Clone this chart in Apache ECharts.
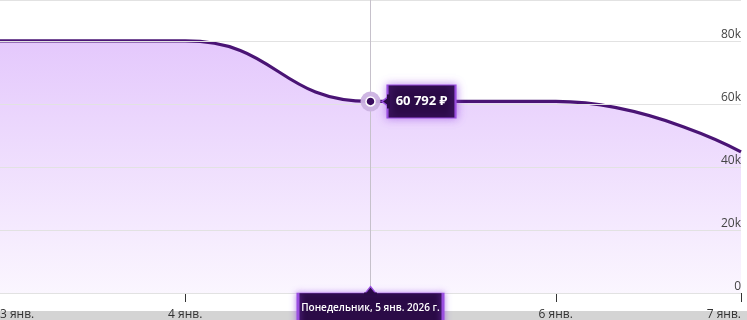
<!DOCTYPE html>
<html>
<head>
<meta charset="utf-8">
<script src="https://cdn.jsdelivr.net/npm/echarts@6/dist/echarts.min.js"></script>
<style>
  html, body { margin: 0; padding: 0; background: #fff; }
  #chart { width: 747px; height: 320px; }
</style>
</head>
<body>
<div id="chart"></div>
<script>
// ---- data ----
const categories = ['3 янв.', '4 янв.', '5 янв.', '6 янв.', '7 янв.'];
const values = [80000, 80000, 60792, 60800, 44800];
const yTicks = [0, 20000, 40000, 60000, 80000];
const focusIndex = 2;
const focusDateText = 'Понедельник, 5 янв. 2026 г.';
const currency = '₽';

function fmtMoney(v) {
  return String(Math.round(v)).replace(/\B(?=(\d{3})+(?!\d))/g, ' ') + ' ' + currency;
}

const FONT = '"Open Sans", "Noto Sans", "DejaVu Sans", sans-serif';
const DARK = '#2b0b47';
const BORDER = '#9a4fe0';

const chart = echarts.init(document.getElementById('chart'), null, { renderer: 'canvas' });

const option = {
  backgroundColor: '#ffffff',
  animation: false,
  textStyle: { fontFamily: FONT },
  grid: { left: 0, right: 6, top: 0, bottom: 27, containLabel: false, outerBoundsMode: 'none' },
  graphic: [{
    type: 'rect', left: 0, bottom: 0, z: -1,
    shape: { width: 747, height: 9 },
    style: { fill: '#d4d4d4' }
  }],
  xAxis: {
    type: 'category',
    data: categories,
    boundaryGap: false,
    axisLine: { show: true, lineStyle: { color: '#333', width: 1 } },
    axisTick: { show: true, length: 9, interval: function (i) { return i > 0; }, lineStyle: { color: '#333' } },
    axisLabel: {
      color: '#333', fontSize: 12, margin: 16, fontFamily: FONT,
      alignMinLabel: 'left', alignMaxLabel: 'right'
    },
    splitLine: { show: false }
  },
  yAxis: {
    type: 'value',
    position: 'right',
    z: 5,
    min: 0, max: 93000, interval: 20000,
    axisLine: { show: false },
    axisTick: { show: false },
    axisLabel: {
      inside: true, margin: 0, verticalAlign: 'bottom', color: '#444', fontSize: 12,
      fontFamily: FONT, showMaxLabel: false,
      formatter: function (v) { return yTicks.indexOf(v) >= 0 ? (v === 0 ? '0' : (v / 1000) + 'k') : ''; }
    },
    splitLine: { show: true, lineStyle: { color: '#e2e2e2', width: 1 } }
  },
  series: [{
    type: 'line',
    data: values,
    smooth: 0.5,
    smoothMonotone: 'x',
    showSymbol: false,
    lineStyle: { color: '#4a1475', width: 3.2 },
    areaStyle: {
      color: new echarts.graphic.LinearGradient(0, 0, 0, 1, [
        { offset: 0, color: 'rgba(185,112,248,0.55)' },
        { offset: 1, color: 'rgba(185,112,248,0.09)' }
      ])
    },
    emphasis: { disabled: true },
    markLine: {
      silent: true,
      symbol: 'none',
      label: { show: false },
      lineStyle: { color: '#c6c1cb', width: 1, type: 'solid' },
      data: [{ xAxis: categories[focusIndex] }]
    },
    markPoint: {
      silent: true,
      animation: false,
      data: [
        { coord: [categories[focusIndex], values[focusIndex]], symbol: 'circle', symbolSize: 20,
          itemStyle: { color: '#cbb2e2', opacity: 0.95 }, label: { show: false } },
        { coord: [categories[focusIndex], values[focusIndex]], symbol: 'circle', symbolSize: 9,
          itemStyle: { color: '#3a0e5e', borderColor: '#ffffff', borderWidth: 1.5 }, label: { show: false } },
        { coord: [categories[focusIndex], values[focusIndex]], symbol: 'rect', symbolSize: [68, 33],
          symbolOffset: [51, 0],
          itemStyle: { color: DARK, borderColor: BORDER, borderWidth: 1.5, shadowBlur: 8, shadowColor: 'rgba(150,70,230,0.6)' },
          label: { show: true, position: 'inside', color: '#fff', fontWeight: 'bold', fontSize: 13, fontFamily: FONT,
            formatter: function () { return fmtMoney(values[focusIndex]); } } },
        { coord: [categories[focusIndex], values[focusIndex]], symbol: 'triangle', symbolSize: [11, 7],
          symbolRotate: 90, symbolOffset: [15, 0],
          itemStyle: { color: DARK, borderColor: BORDER, borderWidth: 1.2 }, label: { show: false } },
        { coord: [categories[focusIndex], values[focusIndex]], symbol: 'rect', symbolSize: [3, 14],
          symbolOffset: [18, 0],
          itemStyle: { color: DARK }, label: { show: false } },
        { coord: [categories[focusIndex], 0], symbol: 'rect', symbolSize: [145, 36],
          symbolOffset: [0, 18],
          itemStyle: { color: DARK, borderColor: BORDER, borderWidth: 1.5, shadowBlur: 6, shadowColor: 'rgba(150,70,230,0.6)' },
          label: { show: true, position: 'inside', offset: [0, -3], color: '#fff', fontWeight: 600, fontSize: 10, fontFamily: FONT,
            formatter: function () { return focusDateText; } } },
        { coord: [categories[focusIndex], 0], symbol: 'triangle', symbolSize: [11, 7],
          symbolOffset: [0, -3],
          itemStyle: { color: DARK, borderColor: BORDER, borderWidth: 1.2 }, label: { show: false } },
        { coord: [categories[focusIndex], 0], symbol: 'rect', symbolSize: [13, 3],
          symbolOffset: [0, 1],
          itemStyle: { color: DARK }, label: { show: false } }
      ]
    }
  }]
};

chart.setOption(option);
</script>
</body>
</html>
